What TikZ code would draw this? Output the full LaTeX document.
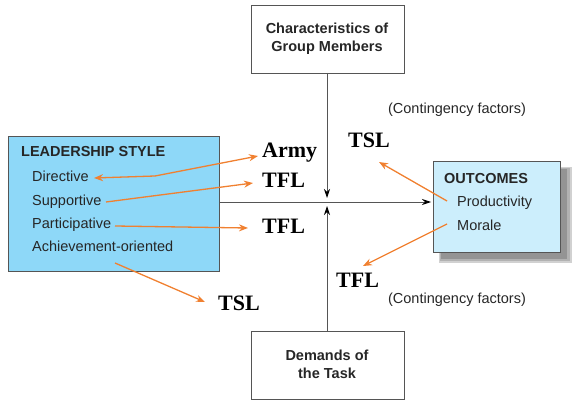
\documentclass[tikz,border=0pt]{standalone}
\usepackage{fontspec}
\setmainfont{Liberation Sans}
\newfontfamily\timesfont{Liberation Serif}
\usetikzlibrary{arrows.meta}
\definecolor{lsblue}{HTML}{8ED8F8}
\definecolor{outblue}{HTML}{CCEEFC}
\definecolor{boxgray}{HTML}{555555}
\definecolor{orangeline}{HTML}{F08030}
\tikzset{
  txt/.style={font=\fontsize{14.5}{18}\selectfont, inner sep=0pt, anchor=base west, text=black!85},
  hdr/.style={txt, font=\fontsize{14.5}{18}\selectfont\bfseries},
  lbl/.style={font=\fontsize{22}{24}\selectfont\timesfont\bfseries, inner sep=0pt, anchor=base west},
  mainarrow/.style={draw=boxgray, line width=0.9pt, -{Stealth[length=9pt,width=6pt,inset=3pt,fill=black,color=black]}},
  oarrow/.style={draw=orangeline, line width=1.3pt, -{Stealth[length=9pt,width=7pt]}},
}
\begin{document}
\begin{tikzpicture}[x=1pt,y=-1pt]
\useasboundingbox (0,0) rectangle (577,403);
% boxes
\path[draw=boxgray, line width=0.8pt] (251,5) rectangle (404,73);
\node[align=center, font=\fontsize{14.5}{18}\selectfont\bfseries, text=black!85, inner sep=0pt] (chars) at (327,39) {Characteristics of\\Group Members};
\coordinate (charsB) at (327,73);
\path[draw=boxgray, line width=0.8pt] (251,331) rectangle (404,399);
\node[align=center, font=\fontsize{14.5}{18}\selectfont\bfseries, text=black!85, inner sep=0pt] (task) at (327,364) {Demands of\\the Task};
\coordinate (taskT) at (327,331);
\path[fill=lsblue, draw=boxgray, line width=0.8pt] (8,136) rectangle (219,271);
\coordinate (lsR) at (219,202);
\fill[black!18] (439,167) rectangle (572,263);
\fill[black!30] (440,168) rectangle (570,261);
\fill[black!42] (441,169) rectangle (567,259);
\path[fill=outblue, draw=boxgray, line width=0.8pt] (433,161) rectangle (560,252);
\coordinate (outL) at (431,202);
% box texts
\node[hdr] (ls) at (21,157) {LEADERSHIP STYLE};
\node[txt] (dir) at (32,182) {Directive};
\node[txt] (sup) at (32,205) {Supportive};
\node[txt] (par) at (32,228) {Participative};
\node[txt] (ach) at (32,251) {Achievement-oriented};
\node[hdr] (out) at (444,183) {OUTCOMES};
\node[txt] (prod) at (457,207) {Productivity};
\node[txt] (mor) at (457,230) {Morale};
\node[txt, anchor=base] (cf1) at (457,114) {(Contingency factors)};
\node[txt, anchor=base] (cf2) at (457,303) {(Contingency factors)};
% main connectors
\coordinate (cross1) at (327,198);
\coordinate (cross2) at (327,206);
\draw[mainarrow] (charsB) -- (cross1);
\draw[mainarrow] (taskT) -- (cross2);
\draw[mainarrow] (lsR) -- (outL);
% labels
\node[lbl] (army) at (262,158) {Army};
\node[lbl] (tfl1) at (262,187) {TFL};
\node[lbl] (tfl2) at (262,233) {TFL};
\node[lbl] (tsl1) at (218,310) {TSL};
\node[lbl] (tsl2) at (348,148) {TSL};
\node[lbl] (tfl3) at (336,287) {TFL};
% orange connectors
\coordinate (a1) at (94,178);
\coordinate (a2) at (155,176);
\coordinate (a3) at (258,156);
\draw[oarrow, {Stealth[length=9pt,width=7pt]}-{Stealth[length=9pt,width=7pt]}] (a1) -- (a2) -- (a3);
\coordinate (b1) at (106,202);
\coordinate (b2) at (253,183);
\draw[oarrow] (b1) -- (b2);
\coordinate (c1) at (115,226);
\coordinate (c2) at (248,228);
\draw[oarrow] (c1) -- (c2);
\coordinate (d1) at (115,263);
\coordinate (d2) at (205,302);
\draw[oarrow] (d1) -- (d2);
\coordinate (e1) at (447,201);
\coordinate (e2) at (379,162);
\draw[oarrow] (e1) -- (e2);
\coordinate (f1) at (447,224);
\coordinate (f2) at (363,266);
\draw[oarrow] (f1) -- (f2);
\end{tikzpicture}
\end{document}
